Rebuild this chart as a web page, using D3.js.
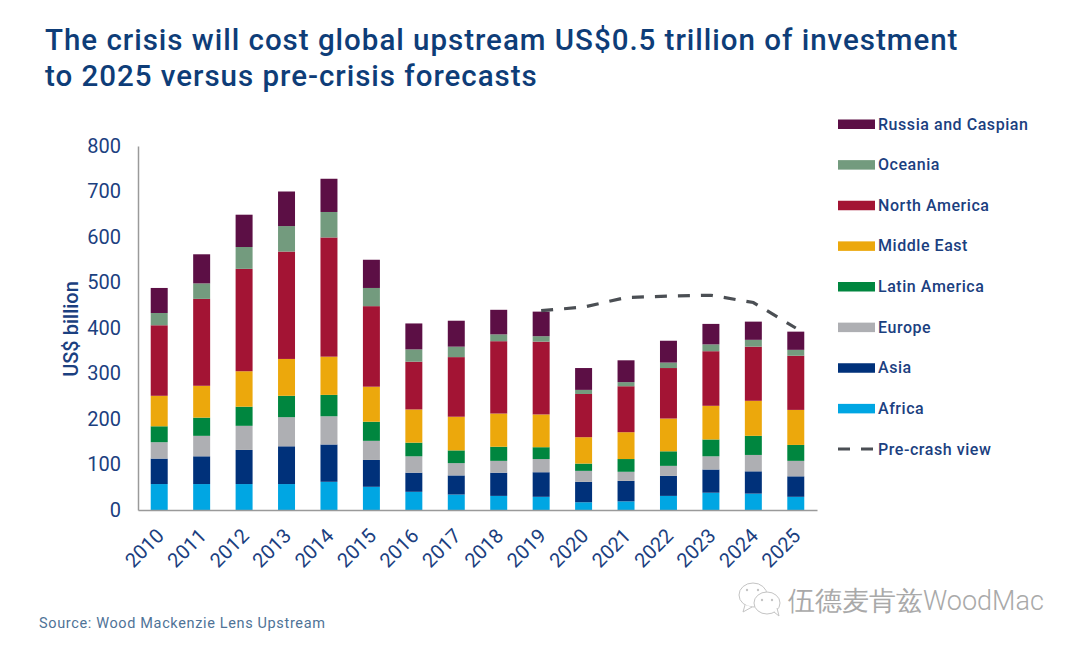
<!DOCTYPE html>
<html>
<head>
<meta charset="utf-8">
<script src="https://cdn.jsdelivr.net/npm/d3@7"></script>
<style>
  html, body { margin: 0; padding: 0; background: #fff; }
  text { font-family: Roboto, sans-serif; }
</style>
</head>
<body>
<svg id="chart" width="1080" height="648"></svg>
<script>
const years = ["2010","2011","2012","2013","2014","2015","2016","2017","2018","2019","2020","2021","2022","2023","2024","2025"];
const africa   = [57,57,57,57,62,51,40,34,31,29,17,19,31,38,36,29];
const asia     = [56,61,75,83,82,59,42,42,51,54,45,45,44,51,49,45];
const europe   = [36,45,53,64,62,42,36,27,26,29,24,20,22,29,36,34];
const latin    = [35,40,42,47,47,42,30,28,31,26,16,28,32,37,42,35];
const midEast  = [67,70,78,81,84,77,73,74,73,72,58,59,72,74,77,77];
const northAm  = [155,191,225,236,262,177,105,131,159,160,95,101,111,120,119,119];
const oceania  = [27,34,48,56,56,40,27,23,15,12,9,9,12,15,15,13];
const russia   = [55,64,71,76,73,62,57,57,54,54,48,48,48,45,40,40];
const preCrashYears = ["2019","2020","2021","2022","2023","2024","2025"];
const preCrash = [438,446,467,470,472,456,400];

const regions = ["Africa","Asia","Europe","Latin America","Middle East","North America","Oceania","Russia and Caspian"];
const regionValues = [africa, asia, europe, latin, midEast, northAm, oceania, russia];
const regionColors = ["#00a6e3","#00317a","#aeafb3","#00863f","#eca80c","#a31434","#739b7e","#5c0f45"];
const yTicks = [0,100,200,300,400,500,600,700,800];
const navy = "#1b4080";

const svg = d3.select("#chart");
const margin = { left: 138, right: 263, top: 146, bottom: 138 };
const width = 1080, height = 648;

const x = d3.scaleBand().domain(years).range([margin.left, width - margin.right]).paddingInner(0.6).paddingOuter(0.3);
const y = d3.scaleLinear().domain([0, 800]).range([height - margin.bottom, margin.top]);

const rows = years.map((yr, i) => {
  const row = { year: yr };
  regions.forEach((r, j) => { row[r] = regionValues[j][i]; });
  return row;
});
const stacked = d3.stack().keys(regions)(rows);

// title
svg.append("g").selectAll("text")
  .data(["The crisis will cost global upstream US$0.5 trillion of investment", "to 2025 versus pre-crisis forecasts"])
  .join("text")
  .attr("x", 45)
  .attr("y", (d, i) => 50 + i * 35.5)
  .attr("font-size", 29.5)
  .attr("font-weight", 500)
  .attr("letter-spacing", 0.98)
  .attr("fill", "#0e3d78")
  .text(d => d);

// bars
svg.append("g").selectAll("g")
  .data(stacked)
  .join("g")
  .attr("fill", (d, i) => regionColors[i])
  .selectAll("rect")
  .data(d => d)
  .join("rect")
  .attr("x", d => x(d.data.year))
  .attr("width", x.bandwidth())
  .attr("y", d => y(d[1]))
  .attr("height", d => y(d[0]) - y(d[1]));

// axes
const yAxis = svg.append("g")
  .attr("transform", `translate(${margin.left},0)`)
  .call(d3.axisLeft(y).tickValues(yTicks).tickSize(0).tickPadding(17));
yAxis.select(".domain").attr("stroke", "#9a9a9a").attr("stroke-width", 1.5);
yAxis.selectAll("text").attr("font-size", 20).attr("fill", navy).attr("font-family", "Roboto, sans-serif");

const xAxis = svg.append("g")
  .attr("transform", `translate(0,${height - margin.bottom})`)
  .call(d3.axisBottom(x).tickSize(0).tickPadding(0));
xAxis.select(".domain").attr("stroke", "#9a9a9a").attr("stroke-width", 1.5);
xAxis.selectAll("text")
  .attr("font-size", 20)
  .attr("fill", navy)
  .attr("font-family", "Roboto, sans-serif")
  .attr("text-anchor", "end")
  .attr("dy", null)
  .attr("y", 0)
  .attr("transform", "translate(6,27) rotate(-45)");

svg.append("text")
  .attr("transform", "translate(78,329) rotate(-90)")
  .attr("text-anchor", "middle")
  .attr("font-size", 20)
  .attr("font-weight", 500)
  .attr("fill", navy)
  .text("US$ billion");

// pre-crash line
const line = d3.line()
  .x((d, i) => x(preCrashYears[i]) + x.bandwidth() / 2)
  .y(d => y(d));
svg.append("path")
  .attr("d", line(preCrash))
  .attr("fill", "none")
  .attr("stroke", "#4b4f54")
  .attr("stroke-width", 3.2)
  .attr("stroke-dasharray", "12 11");

// legend, top to bottom
const legendNames = regions.slice().reverse().concat("Pre-crash view");
const legendColors = regionColors.slice().reverse();
const legendY = d3.scalePoint().domain(legendNames).range([124, 449]);
const legend = svg.append("g").selectAll("g")
  .data(legendNames)
  .join("g")
  .attr("transform", d => `translate(838,${legendY(d)})`);
legend.filter((d, i) => i < 8).append("rect")
  .attr("y", -4.5)
  .attr("width", 37)
  .attr("height", 9.5)
  .attr("fill", (d, i) => legendColors[i]);
legend.filter((d, i) => i === 8).append("line")
  .attr("x1", 0).attr("x2", 37)
  .attr("stroke", "#4b4f54")
  .attr("stroke-width", 3.2)
  .attr("stroke-dasharray", "12 11");
legend.append("text")
  .attr("x", 40)
  .attr("y", 5.5)
  .attr("font-size", 16)
  .attr("font-weight", 500)
  .attr("letter-spacing", 0.55)
  .attr("fill", navy)
  .text(d => d);

// source
svg.append("text")
  .attr("x", 39)
  .attr("y", 628)
  .attr("font-size", 14.5)
  .attr("letter-spacing", 0.64)
  .attr("fill", "#4f7397")
  .text("Source: Wood Mackenzie Lens Upstream");

// watermark
const mark = svg.append("g").attr("fill", "#fff").attr("stroke", "#c4c4c4").attr("stroke-width", 1);
mark.append("ellipse").attr("cx", 753).attr("cy", 595).attr("rx", 14).attr("ry", 12);
mark.append("path").attr("d", "M745 605 L743 612 L752 607");
mark.append("ellipse").attr("cx", 767).attr("cy", 603).attr("rx", 13).attr("ry", 11);
mark.append("path").attr("d", "M774 612 L779 616 L777 608");
mark.selectAll("circle")
  .data([[747, 590], [758, 590], [762, 600], [772, 600]])
  .join("circle")
  .attr("cx", d => d[0]).attr("cy", d => d[1]).attr("r", 1.2)
  .attr("fill", "#c4c4c4").attr("stroke", "none");
svg.append("text")
  .attr("x", 788)
  .attr("y", 610)
  .attr("font-size", 27)
  .attr("font-family", "'Noto Sans CJK SC', sans-serif")
  .attr("font-weight", 300)
  .attr("fill", "#a9a9a9")
  .text("伍德麦肯兹WoodMac");
</script>
</body>
</html>
